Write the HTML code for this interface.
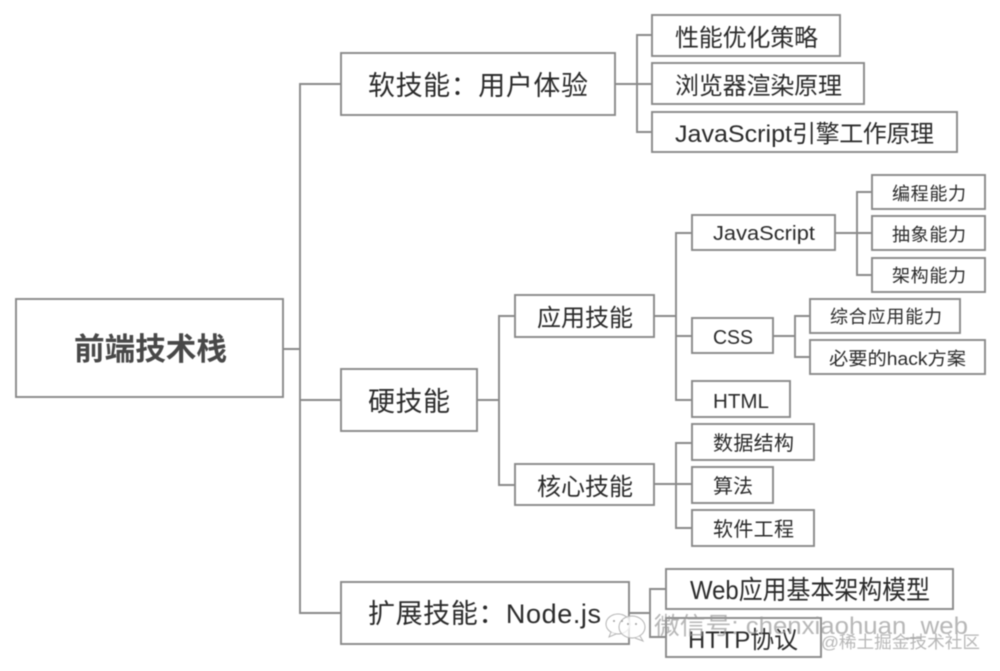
<!DOCTYPE html>
<html lang="zh">
<head>
<meta charset="utf-8">
<title>前端技术栈</title>
<style>
html,body{margin:0;padding:0;background:#fff;width:1000px;height:671px;overflow:hidden}
svg{display:block;filter:blur(.4px)}
text{font-family:"Liberation Sans","Noto Sans CJK SC",sans-serif;fill:#2b2b2b;dominant-baseline:auto}
.b{fill:#fff;stroke:#8a8a8a;stroke-width:1.9}
.l{fill:none;stroke:#8a8a8a;stroke-width:1.9}
.wm{fill:#999;fill-opacity:.7}
</style>
</head>
<body>
<svg width="1000" height="671" viewBox="0 0 1000 671" xmlns="http://www.w3.org/2000/svg">
<rect width="1000" height="671" fill="#fff"/>
<!-- connectors -->
<path class="l" d="M283 349H300M341 84H300V613H341M300 400H341"/>
<path class="l" d="M615 84H652M652 35H637V132H652"/>
<path class="l" d="M477 400H499M515 316H499V485H515"/>
<path class="l" d="M654 316H676M692 233H676V400H692M676 336H692"/>
<path class="l" d="M654 484H692M692 443H676V528H692"/>
<path class="l" d="M835 233H872M872 192H857V275H872"/>
<path class="l" d="M773 336H795M810 316H795V357H810"/>
<path class="l" d="M629 613H650M666 589H650V637H666"/>
<!-- boxes -->
<rect class="b" x="16" y="299" width="267" height="98"/>
<rect class="b" x="341" y="53" width="274" height="62"/>
<rect class="b" x="341" y="369" width="136" height="62"/>
<rect class="b" x="341" y="582" width="288" height="62"/>
<rect class="b" x="652" y="15" width="188" height="41"/>
<rect class="b" x="652" y="63" width="212" height="41"/>
<rect class="b" x="652" y="112" width="305" height="40"/>
<rect class="b" x="515" y="295" width="139" height="42"/>
<rect class="b" x="515" y="464" width="139" height="41"/>
<rect class="b" x="692" y="215" width="143" height="35"/>
<rect class="b" x="692" y="318" width="81" height="35"/>
<rect class="b" x="692" y="381" width="98" height="36"/>
<rect class="b" x="692" y="424" width="122" height="36"/>
<rect class="b" x="692" y="467" width="81" height="36"/>
<rect class="b" x="692" y="510" width="122" height="36"/>
<rect class="b" x="872" y="175" width="113" height="34"/>
<rect class="b" x="872" y="216" width="113" height="34"/>
<rect class="b" x="872" y="258" width="113" height="34"/>
<rect class="b" x="810" y="299" width="150" height="34"/>
<rect class="b" x="810" y="340" width="175" height="34"/>
<rect class="b" x="666" y="569" width="287" height="40"/>
<rect class="b" x="666" y="618" width="155" height="39"/>
<!-- labels -->
<text x="74" y="360" font-size="31" font-weight="700" style="fill:#484848" textLength="153" lengthAdjust="spacingAndGlyphs">前端技术栈</text>
<text x="368" y="95" font-size="27" textLength="220" lengthAdjust="spacing">软技能：用户体验</text>
<text x="368" y="411" font-size="27" textLength="82" lengthAdjust="spacing">硬技能</text>
<text x="368" y="623" font-size="27" textLength="233" lengthAdjust="spacing">扩展技能：Node.js</text>
<text x="675" y="46" font-size="24" textLength="143" lengthAdjust="spacing">性能优化策略</text>
<text x="675" y="94" font-size="24" textLength="167" lengthAdjust="spacing">浏览器渲染原理</text>
<text x="675" y="142" font-size="24" textLength="117" lengthAdjust="spacingAndGlyphs">JavaScript</text>
<text x="792" y="142" font-size="24" textLength="142" lengthAdjust="spacing">引擎工作原理</text>
<text x="537" y="326" font-size="24" textLength="96" lengthAdjust="spacing">应用技能</text>
<text x="537" y="495" font-size="24" textLength="96" lengthAdjust="spacing">核心技能</text>
<text x="713" y="240" font-size="20" textLength="102" lengthAdjust="spacingAndGlyphs">JavaScript</text>
<text x="713" y="344" font-size="20" textLength="40" lengthAdjust="spacingAndGlyphs">CSS</text>
<text x="713" y="408" font-size="20" textLength="56" lengthAdjust="spacingAndGlyphs">HTML</text>
<text x="713" y="450" font-size="20" textLength="81" lengthAdjust="spacing">数据结构</text>
<text x="713" y="493" font-size="20" textLength="40" lengthAdjust="spacing">算法</text>
<text x="713" y="536" font-size="20" textLength="81" lengthAdjust="spacing">软件工程</text>
<text x="892" y="200" font-size="18" textLength="74" lengthAdjust="spacing">编程能力</text>
<text x="892" y="241" font-size="18" textLength="74" lengthAdjust="spacing">抽象能力</text>
<text x="892" y="282" font-size="18" textLength="74" lengthAdjust="spacing">架构能力</text>
<text x="830" y="323" font-size="18" textLength="112" lengthAdjust="spacing">综合应用能力</text>
<text x="829" y="365" font-size="18" textLength="137" lengthAdjust="spacingAndGlyphs">必要的hack方案</text>
<text x="690" y="599" font-size="26" textLength="240" lengthAdjust="spacingAndGlyphs">Web应用基本架构模型</text>
<text x="688" y="648" font-size="24" textLength="110" lengthAdjust="spacingAndGlyphs">HTTP协议</text>
<!-- watermark -->
<g fill="#fff" fill-opacity=".75" stroke="#b4b4b4" stroke-width="1">
<ellipse cx="618" cy="624" rx="12" ry="10"/>
<path d="M611 632l-2 5 7-3"/>
<ellipse cx="632" cy="627" rx="13" ry="11"/>
<path d="M640 636l3 5-8-3"/>
</g>
<g fill="#a0a0a0"><circle cx="614" cy="621" r="1"/><circle cx="622" cy="621" r="1"/><circle cx="628" cy="624" r="1"/><circle cx="636" cy="624" r="1"/></g>
<text class="wm" x="654" y="634" font-size="24" textLength="314" lengthAdjust="spacingAndGlyphs">微信号: chenxiaohuan_web</text>
<text class="wm" x="821" y="648" font-size="17" textLength="159" lengthAdjust="spacingAndGlyphs">@稀土掘金技术社区</text>
</svg>
</body>
</html>
